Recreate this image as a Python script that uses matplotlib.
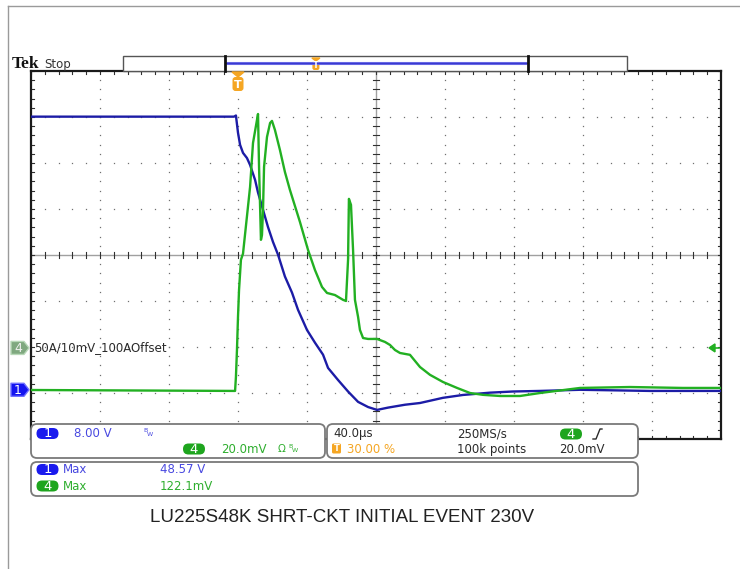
import numpy as np
import matplotlib.pyplot as plt
from matplotlib.patches import FancyBboxPatch, Polygon, Rectangle

# scope settings
time_per_div = 40.0      # us/div
trigger_pct = 30.0       # % of record
ch1_scale = 8.0          # V/div
ch4_scale = 20.0         # mV/div
ch1_pos = -2.93          # div
ch4_pos = -2.02          # div

# channel 1 (V) vs time (us)
ch1_t = [-120, -2.3, -1.2, 0, 1.2, 2.9, 5.2, 7.0, 9.9, 11.6, 14.5, 17.4, 20.3, 23.2,
         27.2, 31.3, 34.8, 40.0, 44.6, 49.3, 52.2, 58.0, 63.8, 69.6, 75.4, 80.6,
         87.0, 96.8, 105.5, 118.8, 130.4, 146.1, 159.4, 175.1, 198.3, 238.8, 279.4]
ch1_v = [47.5, 47.5, 47.7, 44.7, 42.6, 41.2, 40.3, 39.1, 36.5, 34.3, 31.3, 28.3, 25.7, 23.5,
         19.7, 16.9, 13.9, 10.4, 8.2, 6.1, 3.8, 1.7, -0.3, -2.1, -3.0, -3.5,
         -3.1, -2.6, -2.3, -1.4, -0.9, -0.5, -0.3, -0.2, 0.0, -0.2, -0.2]

# channel 4 (mV) vs time (us)
ch4_t = [-120, -1.7, -1.2, -0.6, 0, 0.6, 1.7, 2.9, 7.0, 8.7, 11.0, 11.6, 12.2, 13.3, 13.9,
         14.5, 15.1, 16.8, 18.6, 19.7, 21.4, 24.3, 27.2, 30.1, 35.9, 40.6, 44.6, 48.7,
         51.6, 56.2, 60.9, 62.6, 63.8, 64.3, 65.5, 66.7, 67.8, 69.6, 70.7, 72.5, 75.4,
         80.6, 85.2, 88.1, 91.0, 93.9, 99.7, 105.5, 111.3, 118.8, 127.0, 134.5, 142.0,
         151.9, 163.5, 175.1, 198.3, 227.2, 257.9, 279.4]
ch4_mv = [-18.3, -18.7, -12.6, -0.9, 13.5, 25.2, 38.3, 41.0, 70.0, 89.1, 99.1, 101.7, 78.7, 47.0, 49.1,
          60.0, 78.7, 91.7, 97.8, 98.7, 94.8, 86.1, 76.5, 68.7, 54.8, 42.6, 33.9, 26.5,
          23.9, 23.0, 20.9, 20.4, 38.3, 64.8, 62.2, 42.6, 20.9, 13.5, 7.8, 4.3, 3.9,
          3.9, 2.6, 1.3, -0.9, -2.2, -3.0, -8.3, -11.7, -14.8, -17.4, -19.6, -20.4,
          -20.9, -20.9, -19.6, -17.4, -17.0, -17.4, -17.4]

ch1_label = "8.00 V"
ch4_label = "20.0mV"
ch1_max = "48.57 V"
ch4_max = "122.1mV"
probe_note = "50A/10mV_100AOffset"
title = "LU225S48K SHRT-CKT INITIAL EVENT 230V"

W, H = 740, 569
GX0, GY0, DW, DH = 31, 71, 69, 46   # graticule layout in pixels

BLUE = '#1c1ca6'
GREEN = '#22b022'
PILL_BLUE = '#1a1aee'
PILL_GREEN = '#1ea51e'
TXT_BLUE = '#4848e0'
TXT_GREEN = '#2eae2e'
ORANGE = '#f5a623'
DARK = '#2a2a2a'

fig = plt.figure(figsize=(W / 100, H / 100), dpi=100)
fig.patch.set_facecolor('white')

ax = fig.add_axes([GX0 / W, 1 - (GY0 + 8 * DH) / H, 10 * DW / W, 8 * DH / H])
t0 = -trigger_pct / 100 * 10 * time_per_div
t1 = t0 + 10 * time_per_div
tc = t0 + 5 * time_per_div
ax.set_xlim(t0, t1)
ax.set_ylim(-4, 4)
ax.set_xticks([])
ax.set_yticks([])
for s in ax.spines.values():
    s.set_color('#1a1a1a')
    s.set_linewidth(1.6)

minor_t = np.arange(t0, t1 + 0.01, time_per_div / 5)
minor_y = np.arange(-4, 4.01, 0.2)
dot = dict(ls='none', marker='s', ms=0.9, color='#707070', mew=0)
for k in range(1, 10):
    if k == 5:
        continue
    xm = t0 + k * time_per_div
    ax.plot([xm] * len(minor_y), minor_y, **dot)
for k in range(-3, 4):
    if k == 0:
        continue
    ax.plot(minor_t, [k] * len(minor_t), **dot)

ax.axhline(0, color='#a0a0a0', lw=1.0)
ax.axvline(tc, color='#a0a0a0', lw=1.0)
tx = 3.0 / DW * time_per_div
ty = 3.0 / DH
for xm in minor_t:
    ax.plot([xm, xm], [-ty, ty], color='#303030', lw=0.8)
    ax.plot([xm, xm], [4, 4 - ty], color='#303030', lw=0.8)
    ax.plot([xm, xm], [-4, -4 + ty], color='#303030', lw=0.8)
for ym in minor_y:
    ax.plot([tc - tx, tc + tx], [ym, ym], color='#303030', lw=0.8)
    ax.plot([t0, t0 + tx], [ym, ym], color='#303030', lw=0.8)
    ax.plot([t1, t1 - tx], [ym, ym], color='#303030', lw=0.8)

ax.plot(ch1_t, np.array(ch1_v) / ch1_scale + ch1_pos, color=BLUE, lw=1.7, zorder=5)
ax.plot(ch4_t, np.array(ch4_mv) / ch4_scale + ch4_pos, color=GREEN, lw=1.7, zorder=6)

# overlay in pixel coordinates
ov = fig.add_axes([0, 0, 1, 1])
ov.set_xlim(0, W)
ov.set_ylim(H, 0)
ov.axis('off')
ov.patch.set_alpha(0)

# outer frame
ov.plot([8, W], [6, 6], color='#9a9a9a', lw=1.0)
ov.plot([8, 8], [6, H], color='#9a9a9a', lw=1.0)

ov.text(12, 64, 'Tek', family='Liberation Serif', weight='bold', fontsize=12.5,
        color='#111111', va='center', ha='left')
ov.text(44, 64, 'Stop', fontsize=8.5, color='#333333', va='center', ha='left')

# record view bar
ov.add_patch(Rectangle((123, 56), 504, 15, facecolor='white', edgecolor='#555555', lw=1.0))
ov.plot([226, 527], [63, 63], color='#6a6ae6', lw=2.2, solid_capstyle='butt')
ov.plot([226, 527], [62.5, 62.5], color='#3a3ad0', lw=0.8)
for xb in (225, 528):
    ov.plot([xb, xb], [56, 71], color='#101010', lw=2.0)
rec_T = 225 + trigger_pct / 100 * (528 - 225)
ov.add_patch(Polygon([[rec_T - 4, 58], [rec_T + 4, 58], [rec_T, 61]], closed=True, color=ORANGE))
ov.add_patch(FancyBboxPatch((rec_T - 3.5, 61), 7, 9, boxstyle='round,pad=0,rounding_size=2',
                            facecolor=ORANGE, edgecolor='none'))
ov.text(rec_T, 65.8, 'T', fontsize=6, color='white', weight='bold', ha='center', va='center')

# trigger position marker
trig_x = GX0 + (0 - t0) / time_per_div * DW
ov.add_patch(Polygon([[trig_x - 6, 72], [trig_x + 6, 72], [trig_x, 77]], closed=True, color=ORANGE))
ov.add_patch(FancyBboxPatch((trig_x - 5.5, 77), 11, 14, boxstyle='round,pad=0,rounding_size=3',
                            facecolor=ORANGE, edgecolor='none'))
ov.text(trig_x, 84.5, 'T', fontsize=8, color='white', weight='bold', ha='center', va='center')

# channel markers on the left


def ch_y(pos):
    return GY0 + (4 - pos) * DH


def marker(y, face, edge, label, tcol):
    pts = [[11, y - 6.5], [24, y - 6.5], [29, y], [24, y + 6.5], [11, y + 6.5]]
    ov.add_patch(Polygon(pts, closed=True, facecolor=face, edgecolor=edge, lw=1.0, joinstyle='round'))
    ov.text(18, y + 0.5, label, fontsize=9, color=tcol, ha='center', va='center')


marker(ch_y(ch4_pos), '#7fa87f', '#b8d8b8', '4', '#f0f0f0')
marker(ch_y(ch1_pos), '#1414f0', '#7070ff', '1', 'white')
ov.text(34, ch_y(ch4_pos), probe_note, fontsize=8.5, color=DARK, va='center', ha='left')

# trigger level arrow on the right
yl = ch_y(ch4_pos)
ov.add_patch(Polygon([[709, yl], [715, yl - 4], [715, yl + 4]], closed=True, color=GREEN))
ov.plot([714, 719], [yl, yl], color=GREEN, lw=1.2)


def box(x, y, w, h):
    ov.add_patch(FancyBboxPatch((x, y), w, h, boxstyle='round,pad=0,rounding_size=6',
                                facecolor='white', edgecolor='#7a7a7a', lw=1.3, zorder=3))


def pill(cx, cy, color, label):
    ov.add_patch(FancyBboxPatch((cx - 11, cy - 5.5), 22, 11, boxstyle='round,pad=0,rounding_size=5.5',
                                facecolor=color, edgecolor='none', zorder=4))
    ov.text(cx, cy + 0.3, label, fontsize=9.5, color='white', ha='center', va='center', zorder=5)


def txt(x, y, s, color=DARK, fs=8.5):
    ov.text(x, y, s, fontsize=fs, color=color, ha='left', va='center', zorder=5)


box(31, 424, 294, 34)
box(327, 424, 311, 34)
box(31, 462, 607, 34)

pill(47.5, 433.5, PILL_BLUE, '1')
txt(74, 433.5, ch1_label, TXT_BLUE)
txt(143, 430, 'B', TXT_BLUE, 4.5)
txt(146.5, 434.5, 'W', TXT_BLUE, 4.5)
pill(194, 449, PILL_GREEN, '4')
txt(221, 449, ch4_label, TXT_GREEN)
txt(278, 449, '\u03a9', TXT_GREEN, 7.5)
txt(288, 446, 'B', TXT_GREEN, 4.5)
txt(291.5, 450.5, 'W', TXT_GREEN, 4.5)

txt(333, 433.5, '40.0\u00b5s')
ov.add_patch(FancyBboxPatch((332, 443.5), 9, 10, boxstyle='round,pad=0,rounding_size=1.5',
                            facecolor=ORANGE, edgecolor='none', zorder=4))
ov.text(336.5, 448.8, 'T', fontsize=6, color='white', weight='bold', ha='center', va='center', zorder=5)
txt(347, 449, f'{trigger_pct:.2f} %', ORANGE)
txt(457, 433.5, '250MS/s')
txt(457, 449, '100k points')
pill(571, 434, PILL_GREEN, '4')
ov.plot([593, 596, 600, 602], [439, 439, 429, 429], color=DARK, lw=1.0, zorder=5)
txt(559, 449, '20.0mV')

pill(47.5, 469.5, PILL_BLUE, '1')
txt(63, 469.5, 'Max', TXT_BLUE)
txt(160, 469.5, ch1_max, TXT_BLUE)
pill(47.5, 486, PILL_GREEN, '4')
txt(63, 486, 'Max', TXT_GREEN)
txt(160, 486, ch4_max, TXT_GREEN)

ov.text(342, 518, title, family='Liberation Sans', fontsize=13.5, color='#222222',
        ha='center', va='center')

fig.savefig('out.png', dpi=100)
